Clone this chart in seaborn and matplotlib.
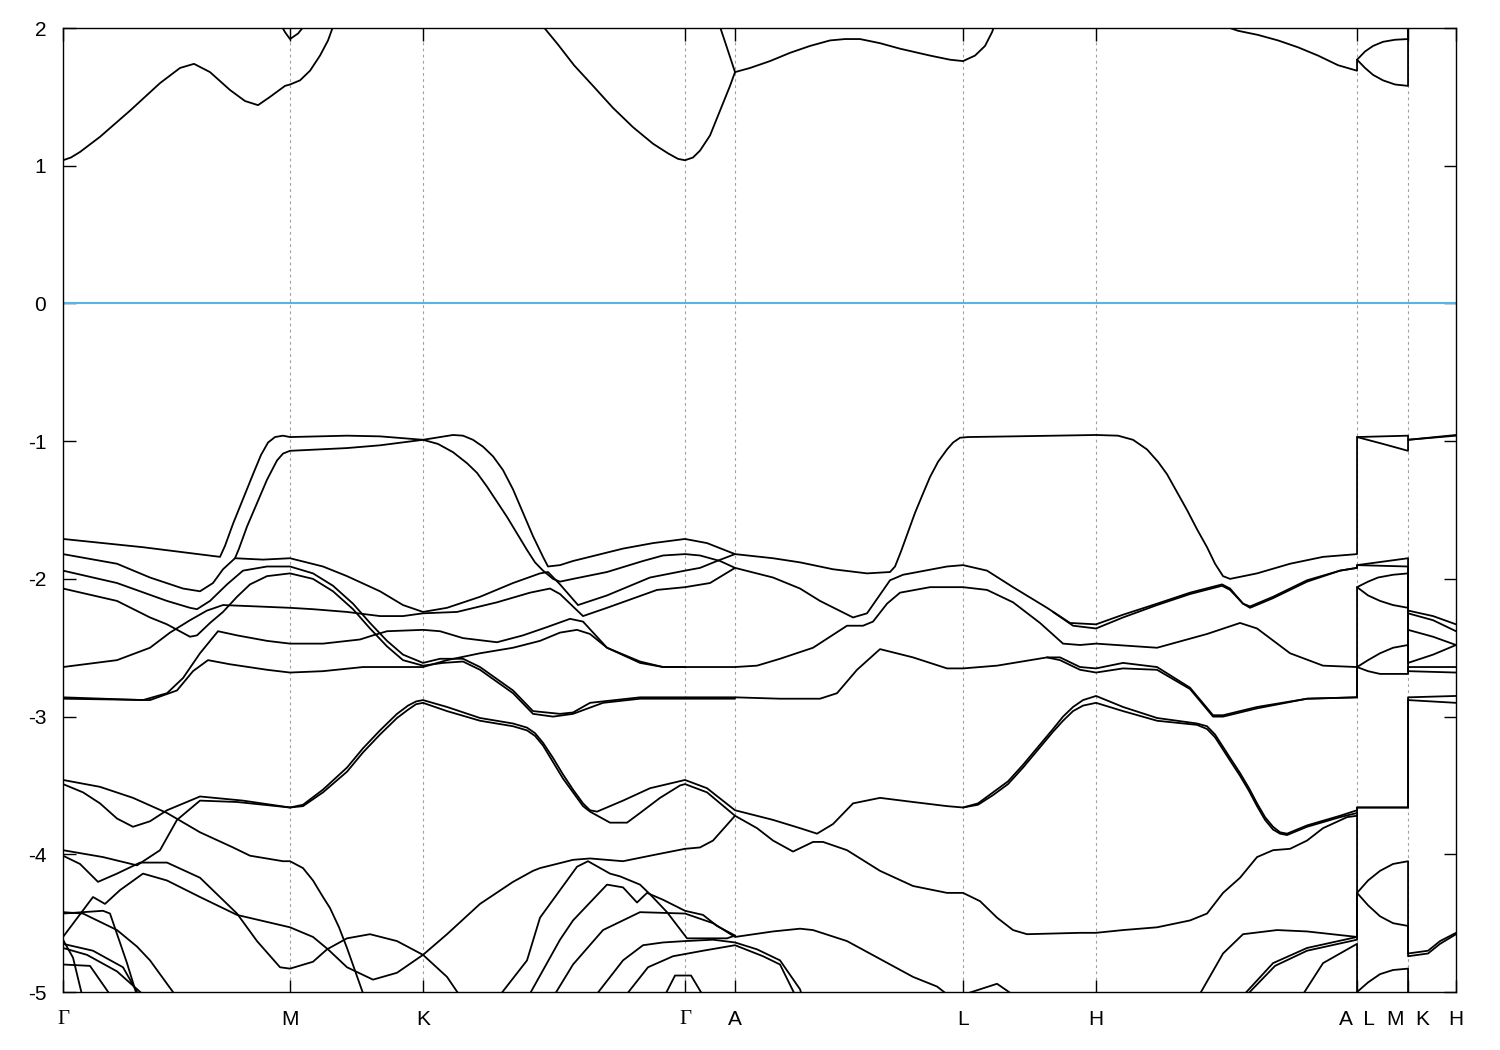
import matplotlib
matplotlib.use("Agg")
import matplotlib.pyplot as plt
import pandas as pd
import seaborn as sns

# k-path (path length units) and labels
sym_k = [0, 227, 360, 622, 672, 900, 1033, 1294, 1345, 1393]
sym_labels = ["Γ", "M", "K", "Γ", "A", "L", "H", "A  L", "M  K", "H"]

# conduction bands (k, E)
cb1 = [(0, 1.04), (8, 1.06), (17, 1.10), (37, 1.21), (67, 1.40), (97, 1.60), (117, 1.71), (131, 1.74),
       (147, 1.68), (167, 1.55), (182, 1.47), (195, 1.44), (207, 1.50), (222, 1.58), (227, 1.59),
       (237, 1.62), (247, 1.69), (257, 1.80), (265, 1.91), (271, 2.03)]
cb2 = [(216, 2.05), (222, 1.97), (227, 1.92), (235, 1.96), (245, 2.05)]
cb3 = [(478, 2.03), (495, 1.88), (511, 1.73), (530, 1.58), (550, 1.42), (570, 1.28), (590, 1.16),
       (605, 1.09), (615, 1.05), (622, 1.04), (630, 1.06), (637, 1.11), (647, 1.22), (657, 1.40),
       (667, 1.58), (672, 1.68), (687, 1.71), (707, 1.76), (727, 1.82), (747, 1.87), (767, 1.91),
       (782, 1.92), (797, 1.92), (817, 1.89), (837, 1.85), (867, 1.80), (887, 1.77), (900, 1.76),
       (912, 1.80), (922, 1.87), (929, 1.97), (932, 2.03)]
cb4 = [(656, 2.03), (662, 1.90), (667, 1.79), (672, 1.68)]
cb5 = [(1155, 2.03), (1175, 1.98), (1195, 1.95), (1215, 1.91), (1235, 1.86), (1255, 1.80),
       (1275, 1.73), (1294, 1.69), (1294, 1.77), (1302, 1.83), (1310, 1.87), (1320, 1.90),
       (1332, 1.915), (1345, 1.92), (1345, 2.05)]
cb6 = [(1294, 1.77), (1302, 1.71), (1310, 1.66), (1320, 1.62), (1332, 1.59), (1345, 1.58),
       (1345, 2.05)]

# valence bands (k, E)
vb01 = [(0, -1.71), (80, -1.77), (157, -1.84), (162, -1.76), (170, -1.60), (180, -1.42), (190, -1.24),
        (198, -1.10), (205, -1.01), (212, -0.97), (220, -0.96), (227, -0.97), (284, -0.96),
        (317, -0.965), (360, -0.99), (390, -0.955), (400, -0.96), (410, -0.99), (420, -1.04),
        (430, -1.11), (440, -1.21), (450, -1.35), (460, -1.52), (470, -1.69), (480, -1.84),
        (485, -1.91), (497, -1.90), (510, -1.87), (560, -1.78), (590, -1.74), (622, -1.71),
        (644, -1.74), (672, -1.82), (710, -1.85), (737, -1.88), (770, -1.93), (804, -1.96),
        (827, -1.95), (832, -1.91), (838, -1.80), (845, -1.66), (852, -1.52), (860, -1.38),
        (867, -1.26), (875, -1.15), (884, -1.06), (890, -1.01), (897, -0.975), (905, -0.97),
        (950, -0.965), (1033, -0.955), (1055, -0.96), (1070, -0.99), (1084, -1.06), (1095, -1.15),
        (1104, -1.24), (1114, -1.37), (1124, -1.50), (1134, -1.64), (1144, -1.77), (1152, -1.89),
        (1160, -1.98), (1167, -2.0), (1194, -1.96), (1227, -1.89), (1260, -1.84), (1294, -1.82),
        (1294, -0.97), (1345, -0.96), (1345, -0.99), (1393, -0.96)]
vb02 = [(0, -1.82), (54, -1.89), (87, -1.99), (120, -2.07), (137, -2.09), (150, -2.03), (160, -1.93),
        (172, -1.85), (200, -1.86), (227, -1.85), (260, -1.91), (284, -1.98), (317, -2.09),
        (340, -2.19), (360, -2.24), (384, -2.21), (417, -2.13), (450, -2.03), (477, -1.96),
        (485, -1.95), (497, -2.04), (515, -2.19), (544, -2.12), (587, -1.99), (622, -1.94),
        (637, -1.92), (654, -1.87), (672, -1.82)]
vb03 = [(172, -1.85), (176, -1.78), (184, -1.62), (194, -1.45), (204, -1.28), (214, -1.14),
        (220, -1.09), (227, -1.07), (284, -1.05), (317, -1.03), (360, -0.99), (375, -1.02),
        (390, -1.08), (404, -1.16), (414, -1.23), (424, -1.33), (434, -1.44), (444, -1.55),
        (454, -1.67), (464, -1.79), (472, -1.88), (480, -1.94), (490, -2.00), (497, -2.02),
        (510, -2.0), (544, -1.95), (580, -1.87), (600, -1.83), (622, -1.82), (637, -1.83),
        (657, -1.87), (672, -1.92), (710, -1.99), (737, -2.07), (757, -2.16), (790, -2.28),
        (804, -2.25), (827, -2.01), (840, -1.97), (884, -1.91), (900, -1.90), (924, -1.94),
        (950, -2.06), (984, -2.21), (1007, -2.32), (1033, -2.33), (1060, -2.26), (1094, -2.18),
        (1127, -2.10), (1159, -2.04), (1167, -2.07), (1180, -2.18), (1187, -2.20), (1210, -2.13),
        (1244, -2.01), (1277, -1.94), (1294, -1.92), (1294, -1.90), (1345, -1.85), (1345, -2.23),
        (1370, -2.27), (1393, -2.33)]
vb04 = [(0, -1.94), (54, -2.03), (104, -2.16), (127, -2.21), (134, -2.22), (147, -2.16),
        (164, -2.04), (180, -1.94), (204, -1.91), (227, -1.91), (250, -1.96), (270, -2.05),
        (290, -2.18), (307, -2.32), (324, -2.45), (340, -2.55), (360, -2.61), (377, -2.58),
        (400, -2.58), (417, -2.64), (450, -2.81), (470, -2.96), (497, -2.98), (510, -2.97),
        (527, -2.90), (577, -2.86), (622, -2.86), (672, -2.86), (717, -2.87), (757, -2.87),
        (774, -2.83), (794, -2.66), (817, -2.51), (850, -2.57), (884, -2.65), (900, -2.65),
        (934, -2.63), (984, -2.57), (997, -2.57), (1017, -2.64), (1033, -2.65), (1060, -2.61),
        (1094, -2.64), (1127, -2.79), (1150, -2.99), (1160, -2.99), (1194, -2.93), (1244, -2.87),
        (1294, -2.86), (1294, -2.64), (1305, -2.59), (1317, -2.54), (1330, -2.50), (1345, -2.48),
        (1345, -2.37), (1370, -2.42), (1393, -2.48)]
vb05 = [(0, -2.07), (54, -2.16), (87, -2.28), (104, -2.33), (127, -2.42), (134, -2.41),
        (147, -2.32), (160, -2.24), (174, -2.13), (187, -2.04), (204, -1.98), (227, -1.96),
        (250, -2.00), (270, -2.09), (290, -2.22), (307, -2.36), (324, -2.49), (340, -2.59),
        (360, -2.63), (380, -2.61), (400, -2.60), (417, -2.66), (450, -2.83), (470, -2.98),
        (490, -3.0), (510, -2.98), (540, -2.90), (577, -2.87), (622, -2.87), (672, -2.87)]
vb06 = [(0, -2.64), (54, -2.59), (87, -2.50), (107, -2.39), (127, -2.30), (144, -2.23),
        (160, -2.19), (194, -2.20), (227, -2.21), (250, -2.22), (284, -2.24), (317, -2.27),
        (340, -2.27), (360, -2.25), (394, -2.24), (434, -2.17), (467, -2.10), (487, -2.07),
        (497, -2.11), (520, -2.27), (544, -2.21), (594, -2.08), (622, -2.06), (647, -2.03),
        (672, -1.92)]
vb07 = [(0, -2.86), (80, -2.88), (104, -2.83), (120, -2.72), (137, -2.54), (155, -2.38),
        (174, -2.41), (204, -2.45), (227, -2.47), (260, -2.47), (297, -2.44), (310, -2.41),
        (324, -2.38), (360, -2.37), (377, -2.38), (400, -2.43), (434, -2.46), (460, -2.41),
        (484, -2.35), (507, -2.29), (520, -2.31), (544, -2.50), (577, -2.60), (600, -2.64),
        (622, -2.64), (672, -2.64), (694, -2.63), (717, -2.58), (750, -2.50), (784, -2.34),
        (800, -2.34), (810, -2.31), (824, -2.18), (837, -2.10), (867, -2.06), (900, -2.06),
        (924, -2.08), (950, -2.17), (977, -2.32), (1000, -2.47), (1017, -2.48), (1033, -2.47),
        (1094, -2.50), (1144, -2.40), (1177, -2.32), (1194, -2.36), (1227, -2.54), (1260, -2.63),
        (1294, -2.64), (1294, -2.06), (1305, -2.02), (1315, -1.99), (1330, -1.97), (1345, -1.96),
        (1345, -2.61), (1370, -2.55), (1393, -2.48)]
vb08 = [(0, -2.87), (87, -2.88), (114, -2.81), (130, -2.67), (145, -2.59), (167, -2.62),
        (204, -2.66), (227, -2.68), (260, -2.67), (300, -2.64), (340, -2.64), (360, -2.64),
        (384, -2.59), (417, -2.54), (450, -2.50), (477, -2.45), (497, -2.39), (514, -2.37),
        (527, -2.40), (544, -2.50), (577, -2.61), (600, -2.64), (622, -2.64)]
vb09 = [(0, -3.46), (37, -3.51), (70, -3.59), (104, -3.70), (137, -3.84), (170, -3.95), (187, -4.01),
        (220, -4.05), (227, -4.05), (240, -4.10), (250, -4.19), (260, -4.31), (267, -4.39),
        (276, -4.53), (284, -4.68), (302, -5.05)]
vb10 = [(0, -3.49), (20, -3.55), (37, -3.63), (54, -3.74), (70, -3.80), (87, -3.76), (104, -3.68),
        (137, -3.58), (180, -3.61), (227, -3.66), (240, -3.64), (260, -3.53), (284, -3.37),
        (300, -3.23), (317, -3.10), (334, -2.98), (345, -2.92), (353, -2.89), (360, -2.88),
        (384, -2.93), (417, -3.01), (450, -3.05), (464, -3.08), (472, -3.12), (480, -3.19),
        (490, -3.30), (500, -3.42), (510, -3.53), (520, -3.63), (527, -3.68), (534, -3.69),
        (560, -3.61), (587, -3.52), (622, -3.46), (644, -3.52), (672, -3.68), (710, -3.75),
        (737, -3.81), (754, -3.85), (770, -3.78), (790, -3.63), (817, -3.59), (850, -3.62),
        (884, -3.65), (900, -3.66), (915, -3.63), (930, -3.55), (945, -3.47), (960, -3.35),
        (975, -3.22), (990, -3.09), (1000, -3.0), (1010, -2.93), (1020, -2.88), (1033, -2.85),
        (1060, -2.93), (1094, -3.01), (1134, -3.05), (1144, -3.07), (1152, -3.13), (1160, -3.22),
        (1168, -3.31), (1177, -3.41), (1186, -3.52), (1194, -3.63), (1202, -3.73), (1210, -3.80),
        (1217, -3.84), (1224, -3.85), (1244, -3.79), (1277, -3.72), (1294, -3.68), (1294, -3.66),
        (1345, -3.66), (1345, -2.86), (1393, -2.85)]
vb11 = [(0, -3.97), (40, -4.02), (74, -4.08), (97, -3.97), (114, -3.75), (137, -3.61), (174, -3.62),
        (227, -3.66), (240, -3.65), (260, -3.55), (284, -3.40), (300, -3.26), (317, -3.13),
        (334, -3.01), (345, -2.95), (353, -2.91), (360, -2.90), (384, -2.96), (417, -3.03),
        (450, -3.07), (464, -3.10), (472, -3.14), (480, -3.21), (490, -3.33), (500, -3.45),
        (510, -3.55), (520, -3.65), (527, -3.69), (547, -3.77), (564, -3.77), (577, -3.70),
        (597, -3.59), (617, -3.50), (622, -3.49), (644, -3.55), (672, -3.72), (694, -3.81),
        (710, -3.90), (730, -3.98), (750, -3.91), (760, -3.91), (784, -3.97), (817, -4.12),
        (850, -4.23), (884, -4.28), (900, -4.28), (917, -4.34), (934, -4.46), (950, -4.55),
        (964, -4.58), (1017, -4.57), (1033, -4.57), (1060, -4.55), (1094, -4.53), (1127, -4.48),
        (1144, -4.43), (1160, -4.28), (1177, -4.17), (1194, -4.02), (1210, -3.97), (1227, -3.96),
        (1244, -3.90), (1260, -3.81), (1284, -3.73), (1294, -3.72), (1294, -3.66), (1345, -3.66),
        (1345, -2.88), (1393, -2.90)]
vb12 = [(0, -4.01), (17, -4.07), (35, -4.20), (54, -4.14), (77, -4.06), (104, -4.06), (137, -4.17),
        (174, -4.43), (194, -4.63), (217, -4.82), (227, -4.83), (250, -4.78), (264, -4.69),
        (284, -4.61), (307, -4.58), (334, -4.63), (360, -4.73), (384, -4.58), (417, -4.36),
        (450, -4.20), (470, -4.12), (477, -4.10), (510, -4.04), (527, -4.03), (560, -4.05),
        (594, -4.00), (622, -3.96), (637, -3.95), (650, -3.90), (672, -3.72)]
vb13 = [(0, -4.60), (30, -4.31), (42, -4.36), (57, -4.26), (80, -4.14), (104, -4.19), (137, -4.31),
        (174, -4.44), (227, -4.53), (250, -4.60), (265, -4.69), (284, -4.82), (310, -4.91),
        (334, -4.86), (360, -4.73), (384, -4.89), (399, -5.05)]
vb14 = [(0, -4.42), (20, -4.43), (54, -4.55), (74, -4.67), (87, -4.77), (115, -5.05)]
vb15 = [(0, -4.43), (40, -4.41), (47, -4.43), (64, -4.79), (75, -5.05)]
vb16 = [(0, -4.65), (30, -4.70), (60, -4.82), (78, -5.05)]
vb17 = [(0, -4.68), (24, -4.73), (54, -4.85), (85, -5.05)]
vb18 = [(0, -4.80), (27, -4.81), (50, -5.05)]
vb19 = [(0, -4.62), (10, -4.75), (20, -5.05)]
vb20 = [(434, -5.05), (464, -4.77), (477, -4.46), (497, -4.26), (514, -4.09), (525, -4.05),
        (547, -4.14), (557, -4.16), (577, -4.22), (587, -4.29), (604, -4.42), (624, -4.61),
        (664, -4.61), (672, -4.59)]
vb21 = [(464, -5.05), (497, -4.62), (510, -4.48), (544, -4.22), (560, -4.24), (574, -4.35),
        (584, -4.28), (600, -4.33), (622, -4.41), (640, -4.44), (654, -4.52), (672, -4.59)]
vb22 = [(489, -5.05), (510, -4.80), (540, -4.55), (577, -4.42), (622, -4.43), (650, -4.50),
        (672, -4.60), (710, -4.56), (737, -4.54), (750, -4.55), (784, -4.63), (817, -4.76),
        (850, -4.89), (874, -4.96), (890, -5.05)]
vb23 = [(530, -5.05), (560, -4.77), (580, -4.66), (600, -4.64), (622, -4.63), (650, -4.62),
        (672, -4.64), (694, -4.69), (717, -4.77), (737, -4.98), (740, -5.05)]
vb24 = [(560, -5.05), (585, -4.82), (610, -4.74), (640, -4.70), (672, -4.66), (700, -4.74),
        (717, -4.80), (734, -5.05)]
vb25 = [(600, -5.05), (612, -4.88), (628, -4.88), (642, -5.05)]
vb26 = [(900, -5.02), (934, -4.94), (950, -5.02)]
vb27 = [(1134, -5.05), (1160, -4.72), (1180, -4.58), (1214, -4.55), (1244, -4.56), (1294, -4.60),
        (1294, -4.28), (1305, -4.19), (1317, -4.12), (1330, -4.07), (1345, -4.05), (1345, -4.72),
        (1365, -4.70), (1377, -4.63), (1393, -4.57)]
vb28 = [(1177, -5.05), (1210, -4.79), (1244, -4.68), (1294, -4.60), (1294, -4.28), (1305, -4.37),
        (1317, -4.45), (1330, -4.50), (1345, -4.52), (1345, -4.74), (1365, -4.72), (1377, -4.65),
        (1393, -4.58)]
vb29 = [(1180, -5.05), (1212, -4.81), (1244, -4.70), (1294, -4.62), (1294, -3.72)]
vb30 = [(1237, -5.05), (1260, -4.79), (1294, -4.65), (1294, -5.05)]
vb31 = [(1294, -5.05), (1294, -5.0), (1305, -4.93), (1317, -4.87), (1330, -4.84), (1345, -4.83),
        (1345, -5.05)]
vb32 = [(984, -2.57), (997, -2.59), (1017, -2.66), (1033, -2.68), (1060, -2.65), (1094, -2.66),
        (1127, -2.80), (1150, -3.00), (1160, -3.0), (1194, -2.94), (1244, -2.87), (1294, -2.86),
        (1294, -2.64), (1305, -2.67), (1317, -2.69), (1345, -2.69), (1345, -2.64), (1393, -2.64)]
vb33 = [(990, -2.24), (1010, -2.34), (1033, -2.36), (1060, -2.28), (1094, -2.19), (1127, -2.11),
        (1159, -2.05), (1167, -2.08), (1180, -2.18), (1187, -2.21), (1210, -2.14), (1244, -2.02),
        (1277, -1.94), (1294, -1.92), (1294, -1.90), (1345, -1.91), (1345, -2.25), (1370, -2.30),
        (1393, -2.38)]
vb34 = [(1294, -0.97), (1320, -1.02), (1345, -1.07), (1345, -0.99), (1393, -0.955)]
vb35 = [(1294, -2.06), (1305, -2.12), (1317, -2.16), (1330, -2.19), (1345, -2.21), (1345, -2.67),
        (1393, -2.68)]
vb36 = [(900, -3.66), (915, -3.64), (930, -3.57), (945, -3.49), (960, -3.37), (975, -3.24),
        (990, -3.11), (1000, -3.03), (1010, -2.96), (1020, -2.92), (1033, -2.90), (1060, -2.96),
        (1094, -3.03), (1134, -3.06), (1144, -3.09), (1152, -3.15), (1160, -3.24), (1168, -3.33),
        (1177, -3.43), (1186, -3.54), (1194, -3.65), (1202, -3.75), (1210, -3.82), (1217, -3.85),
        (1224, -3.86), (1244, -3.80), (1277, -3.73), (1294, -3.70)]

bands = {
    "cb1": cb1, "cb2": cb2, "cb3": cb3, "cb4": cb4, "cb5": cb5, "cb6": cb6,
    "vb01": vb01, "vb02": vb02, "vb03": vb03, "vb04": vb04, "vb05": vb05, "vb06": vb06,
    "vb07": vb07, "vb08": vb08, "vb09": vb09, "vb10": vb10, "vb11": vb11, "vb12": vb12,
    "vb13": vb13, "vb14": vb14, "vb15": vb15, "vb16": vb16, "vb17": vb17, "vb18": vb18,
    "vb19": vb19, "vb20": vb20, "vb21": vb21, "vb22": vb22, "vb23": vb23, "vb24": vb24,
    "vb25": vb25, "vb26": vb26, "vb27": vb27, "vb28": vb28, "vb29": vb29, "vb30": vb30,
    "vb31": vb31, "vb32": vb32, "vb33": vb33, "vb34": vb34, "vb35": vb35, "vb36": vb36,
}

rows = []
for name, pts in bands.items():
    for i, (k, e) in enumerate(pts):
        rows.append({"band": name, "order": i, "k": k, "E": e})
df = pd.DataFrame(rows)

sns.set_style("ticks")
plt.rcParams["font.family"] = ["Liberation Sans", "DejaVu Sans"]

fig = plt.figure(figsize=(15, 10.5), dpi=100)
ax = fig.add_axes([0.042, 0.0552, 0.9287, 0.9181])

# vertical grid lines at interior high-symmetry points
for k in sym_k[1:-1]:
    ax.axvline(k, color="#a0a0a0", lw=0.8, ls=(0, (2.5, 3)), zorder=0)

ax.axhline(0, color="#56b4e9", lw=1.5, zorder=1)

sns.lineplot(data=df, x="k", y="E", units="band", estimator=None, sort=False,
             color="black", lw=1.3, legend=False, ax=ax)

ax.set_xlim(sym_k[0], sym_k[-1])
ax.set_ylim(-5, 2)
ax.set_xticks(sym_k)
ax.set_xticklabels(sym_labels)
ax.set_yticks(range(-5, 3))
ax.set_yticklabels([str(v) for v in range(-5, 3)])
ax.set_xlabel("")
ax.set_ylabel("")

ax.tick_params(axis="both", direction="in", length=9, width=1, labelsize=15,
               top=True, right=True, colors="black")
ax.tick_params(axis="y", pad=12)
ax.tick_params(axis="x", pad=13)
for lab in ax.get_xticklabels():
    if lab.get_text() == "Γ":
        lab.set_fontfamily(["Liberation Serif", "DejaVu Serif"])

for s in ax.spines.values():
    s.set_linewidth(1.0)
    s.set_color("black")

fig.savefig("out.png", dpi=100)
